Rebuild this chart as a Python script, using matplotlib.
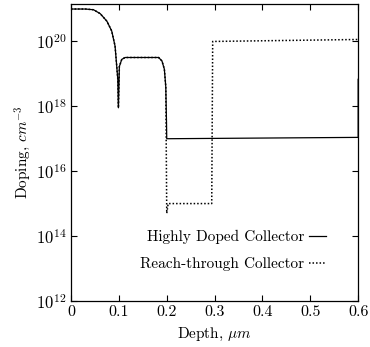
import numpy as np
import matplotlib
matplotlib.use("Agg")
from matplotlib import pyplot as plt

plt.rcParams["font.family"] = ["cmr10", "DejaVu Serif"]
plt.rcParams["mathtext.fontset"] = "cm"
plt.rcParams["axes.unicode_minus"] = False

# depth in um, doping in cm^-3
depth_hd = [0.0, 0.03, 0.047, 0.061, 0.075, 0.085, 0.092, 0.0955, 0.0977, 0.099,
            0.101, 0.106, 0.113, 0.183, 0.19, 0.195, 0.198, 0.1995, 0.2, 0.6, 0.6]
doping_hd = [1.0e21, 1.0e21, 9.5e20, 7.2e20, 4.2e20, 2.1e20, 7.2e19, 1.7e19, 6.8e18, 9.0e17,
             1.7e19, 2.8e19, 3.2e19, 3.2e19, 2.5e19, 1.4e19, 4.0e18, 3.2e17, 1.0e17, 1.1e17, 6.8e18]

depth_rt = [0.0, 0.03, 0.047, 0.061, 0.075, 0.085, 0.092, 0.0955, 0.0977, 0.099,
            0.101, 0.106, 0.113, 0.183, 0.19, 0.195, 0.198, 0.2, 0.203, 0.294, 0.296, 0.6]
doping_rt = [1.0e21, 1.0e21, 9.5e20, 7.2e20, 4.2e20, 2.1e20, 7.2e19, 1.7e19, 6.8e18, 9.0e17,
             1.7e19, 2.8e19, 3.2e19, 3.2e19, 2.5e19, 1.4e19, 4.0e18, 5.0e14, 1.0e15, 1.0e15, 1.0e20, 1.15e20]

xticks = [0, 0.1, 0.2, 0.3, 0.4, 0.5, 0.6]
xticklabels = ["0", "0.1", "0.2", "0.3", "0.4", "0.5", "0.6"]
yticks = [1e12, 1e14, 1e16, 1e18, 1e20]
yticklabels = ["$10^{12}$", "$10^{14}$", "$10^{16}$", "$10^{18}$", "$10^{20}$"]

fig = plt.figure(figsize=(3.70, 3.47), dpi=100)
ax = fig.add_axes([0.192, 0.133, 0.776, 0.855])

ax.plot(depth_hd, doping_hd, color="black", lw=0.9, label="Highly Doped Collector")
ax.plot(depth_rt, doping_rt, color="black", lw=1.1, linestyle=(0, (1, 1.3)),
        label="Reach-through Collector")

ax.set_yscale("log")
ax.set_xlim(0, 0.6)
ax.set_ylim(1e12, 10**21.15)
ax.set_xticks(xticks)
ax.set_xticklabels(xticklabels, fontsize=11.5)
ax.set_yticks(yticks)
ax.set_yticklabels(yticklabels, fontsize=12)
ax.minorticks_off()
ax.tick_params(direction="in", top=True, right=True, length=4, width=0.8, pad=3)
for s in ax.spines.values():
    s.set_linewidth(0.9)

ax.set_xlabel(r"Depth, $\mu m$", fontsize=11, labelpad=5)
ax.set_ylabel(r"Doping, $cm^{-3}$", fontsize=11, labelpad=2)

ax.legend(loc="upper right", bbox_to_anchor=(0.908, 0.26), frameon=False,
          markerfirst=False, handlelength=1.1, handletextpad=0.3,
          labelspacing=0.85, fontsize=11, borderaxespad=0)

fig.savefig("out.png", dpi=100)
